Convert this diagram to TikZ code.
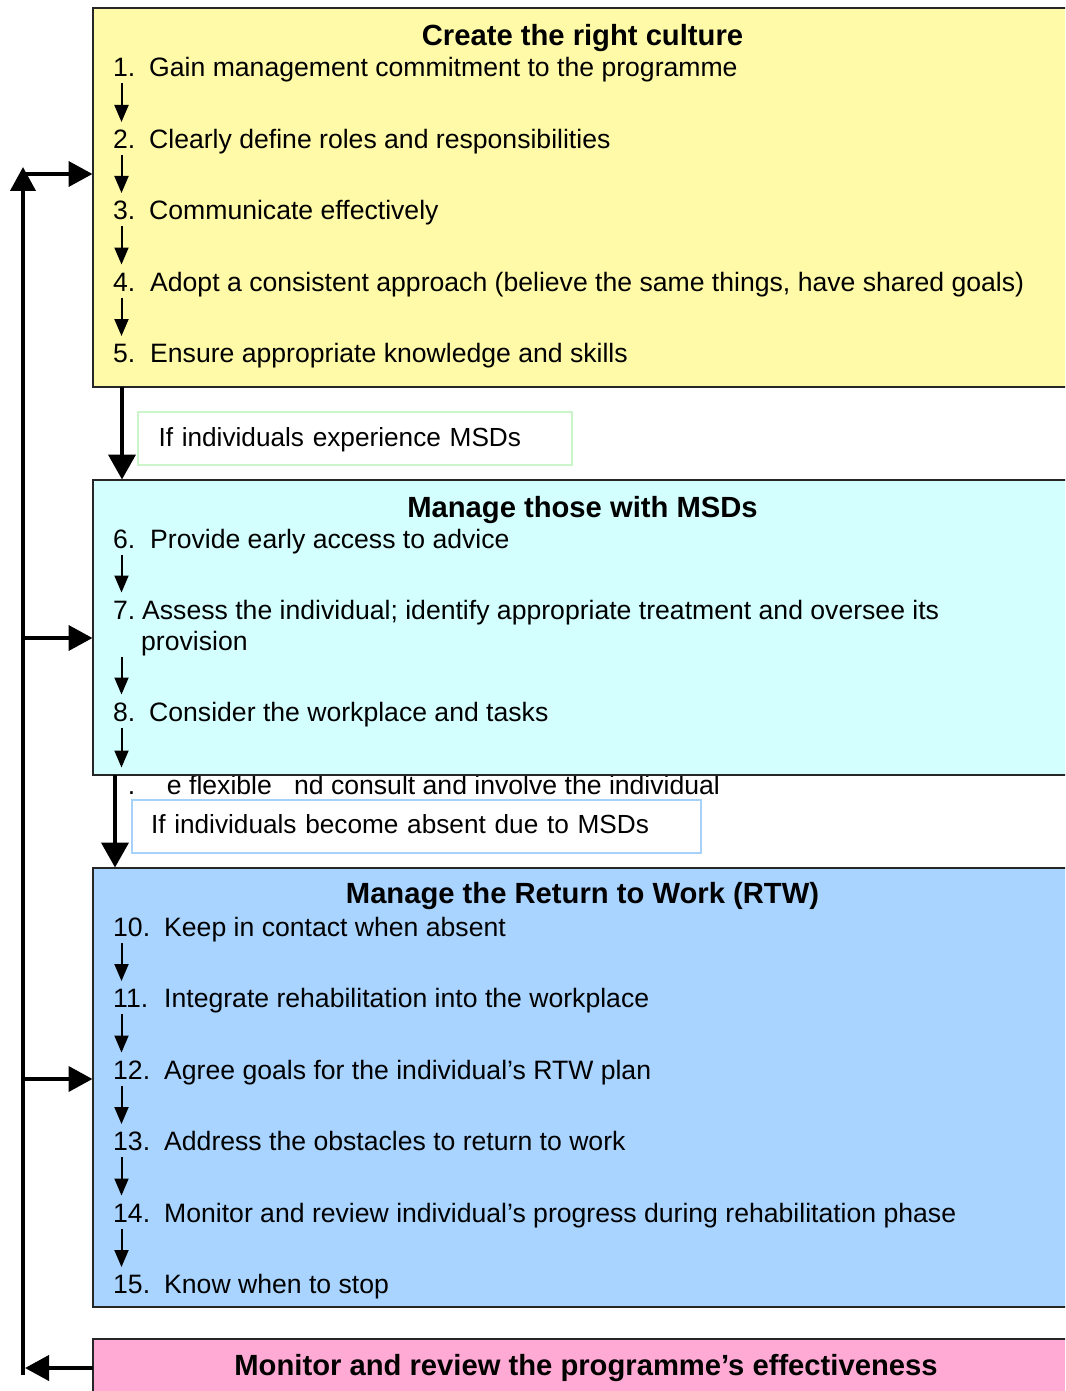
\documentclass[tikz,border=0pt]{standalone}
\usepackage{fontspec}
\setmainfont{Liberation Sans}
\usepackage{xcolor}
\usetikzlibrary{arrows.meta}
\usetikzlibrary{calc}

\definecolor{cultureyellow}{HTML}{FFFAA8}
\definecolor{managecyan}{HTML}{D3FFFF}
\definecolor{rtwblue}{HTML}{A8D4FF}
\definecolor{reviewpink}{HTML}{FFAAD4}
\definecolor{notegreen}{HTML}{CCF5CC}
\definecolor{noteblue}{HTML}{A6D2FA}

\begin{document}
\begin{tikzpicture}[x=1pt,y=-1pt,
  panel/.style={draw=black!85,line width=2pt,anchor=north west,inner sep=0pt,
    outer sep=0pt,minimum width=980pt},
  title/.style={anchor=base,inner sep=0pt,font=\fontsize{29.2pt}{34pt}\selectfont\bfseries},
  item/.style={anchor=base west,inner sep=0pt,font=\fontsize{26.6pt}{31pt}\selectfont},
  note/.style={line width=2pt,fill=white,anchor=north west,inner ysep=0pt,
    minimum height=53pt,align=left,font=\fontsize{26.2pt}{31pt}\selectfont},
  sarrow/.style={line width=2pt,-{Triangle[length=17pt,width=14pt]}},
  flow/.style={line width=4pt,-{Triangle[length=25pt,width=27pt]}},
  feed/.style={line width=4pt,-{Triangle[length=24pt,width=25pt]}}]

\fill[white] (0,0) rectangle (1065,1391);
\useasboundingbox (0,0) rectangle (1065,1391);
\clip (0,0) rectangle (1065,1391);

% step 9 sits under the cyan panel, only its lower half shows
\node[item] (i9) at (113,794)
{\makebox[36pt][l]{\phantom{9}.}\phantom{B}e flexible \phantom{a}nd consult and involve the individual};

% the four panels
\node[panel,fill=cultureyellow,minimum height=378.5pt] (culture) at (92.5,8.5) {};
\node[panel,fill=managecyan,minimum height=295.5pt] (manage) at (92.5,479.5) {};
\node[panel,fill=rtwblue,minimum height=439.5pt] (rtw) at (92.5,867.5) {};
\node[panel,fill=reviewpink,minimum height=59pt] (review) at (92.5,1338.5) {};

\node[title] (culturetitle) at (582.5,45.5) {Create the right culture};
\node[title] (managetitle) at (582.5,517.5) {Manage those with MSDs};
\node[title] (rtwtitle) at (582.5,903.5) {Manage the Return to Work (RTW)};
\node[title] (reviewtitle) at (586,1375.5) {Monitor and review the programme’s effectiveness};

\node[item] (i1) at (113,77) {\makebox[36pt][l]{1.}Gain management commitment to the programme};
\node[item] (i2) at (113,148.5) {\makebox[36pt][l]{2.}Clearly define roles and responsibilities};
\node[item] (i3) at (113,219.5) {\makebox[36pt][l]{3.}Communicate effectively};
\node[item] (i4) at (113,291) {\makebox[37pt][l]{4.}Adopt a consistent approach (believe the same things, have shared goals)};
\node[item] (i5) at (113,362.5) {\makebox[37pt][l]{5.}Ensure appropriate knowledge and skills};

\node[item] (i6) at (113,548) {\makebox[37pt][l]{6.}Provide early access to advice};
\node[item] (i7) at (113,619) {\makebox[29pt][l]{7.}Assess the individual; identify appropriate treatment and oversee its};
\node[item] (i7b) at (141,650) {provision};
\node[item] (i8) at (113,721) {\makebox[36pt][l]{8.}Consider the workplace and tasks};

\node[item] (i10) at (113,936.5) {\makebox[51pt][l]{10.}Keep in contact when absent};
\node[item] (i11) at (113,1007.5) {\makebox[51pt][l]{11.}Integrate rehabilitation into the workplace};
\node[item] (i12) at (113,1079) {\makebox[51pt][l]{12.}Agree goals for the individual’s RTW plan};
\node[item] (i13) at (113,1150.5) {\makebox[51pt][l]{13.}Address the obstacles to return to work};
\node[item] (i14) at (113,1222) {\makebox[51pt][l]{14.}Monitor and review individual’s progress during rehabilitation phase};
\node[item] (i15) at (113,1293.5) {\makebox[51pt][l]{15.}Know when to stop};

% small arrows between the steps
\coordinate (sx) at (121.5,0);
\foreach \a/\b in {i1/i2,i2/i3,i3/i4,i4/i5,i6/i7,i7b/i8,i8/i9,
                   i10/i11,i11/i12,i12/i13,i13/i14,i14/i15}
\draw[sarrow] ($(\a.base west -| sx)+(0,6.5)$) -- ($(\b.base west -| sx)+(0,-26.5)$);

\node[note,draw=notegreen,text width=393pt,inner xsep=20.5pt,text depth=2.5pt] (msd) at (137,411)
{If individuals experience MSDs};
\node[note,draw=noteblue,text width=531pt,inner xsep=19pt,text depth=4.5pt] (absent) at (131,799)
{If individuals become absent due to MSDs};

\draw[flow] ([xshift=29.5pt]culture.south west) -- ([xshift=29.5pt]manage.north west);
\draw[flow] ([xshift=22.5pt]manage.south west) -- ([xshift=22.5pt]rtw.north west);

% feedback loop on the left
\coordinate (fb0) at (23,1375);
\coordinate (fbtop) at (23,167);
\coordinate (b1) at (23,174);
\coordinate (b2) at (23,638);
\coordinate (b3) at (23,1079);

\draw[feed] (fb0) -- (fbtop);
\foreach \b/\p in {b1/culture,b2/manage,b3/rtw}
\draw[feed] (\b) -- (\b -| \p.west);
\draw[feed,shorten >=2pt] (review.west) -- (review.west -| fb0);

\end{tikzpicture}
\end{document}
